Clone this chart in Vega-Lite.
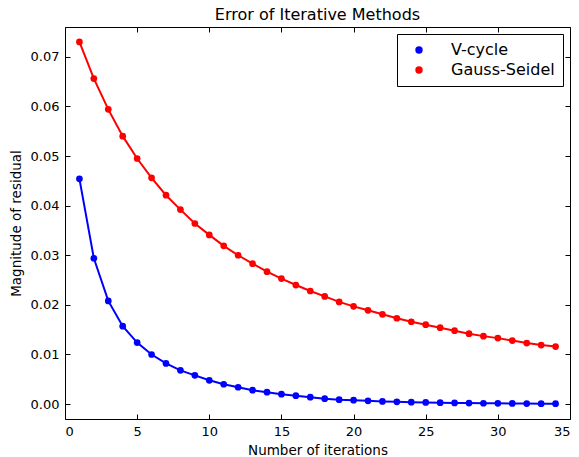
{
  "$schema": "https://vega.github.io/schema/vega-lite/v6.json",
  "width": 505,
  "height": 392,
  "autosize": "none",
  "padding": {"left": 65, "top": 27, "right": 9, "bottom": 38},
  "background": "white",
  "config": {
    "font": "DejaVu Sans",
    "view": {"stroke": "black", "strokeWidth": 1},
    "axis": {"grid": false, "domainColor": "black", "tickColor": "black", "labelColor": "black", "titleColor": "black", "labelFontSize": 13, "titleFontSize": 13.5, "titleFontWeight": "normal", "tickSize": -5, "labelPadding": 11, "domain": false}
  },
  "title": {"text": "Error of Iterative Methods", "fontSize": 16, "fontWeight": "normal", "color": "black", "offset": 4},
  "data": {"values": [
    {"iter": 1, "residual": 0.0454, "method": "V-cycle"},
    {"iter": 2, "residual": 0.0294, "method": "V-cycle"},
    {"iter": 3, "residual": 0.0208, "method": "V-cycle"},
    {"iter": 4, "residual": 0.0157, "method": "V-cycle"},
    {"iter": 5, "residual": 0.0124, "method": "V-cycle"},
    {"iter": 6, "residual": 0.0100, "method": "V-cycle"},
    {"iter": 7, "residual": 0.0082, "method": "V-cycle"},
    {"iter": 8, "residual": 0.0068, "method": "V-cycle"},
    {"iter": 9, "residual": 0.0058, "method": "V-cycle"},
    {"iter": 10, "residual": 0.0048, "method": "V-cycle"},
    {"iter": 11, "residual": 0.0040, "method": "V-cycle"},
    {"iter": 12, "residual": 0.0034, "method": "V-cycle"},
    {"iter": 13, "residual": 0.0028, "method": "V-cycle"},
    {"iter": 14, "residual": 0.0024, "method": "V-cycle"},
    {"iter": 15, "residual": 0.0020, "method": "V-cycle"},
    {"iter": 16, "residual": 0.0017, "method": "V-cycle"},
    {"iter": 17, "residual": 0.0014, "method": "V-cycle"},
    {"iter": 18, "residual": 0.0011, "method": "V-cycle"},
    {"iter": 19, "residual": 0.0009, "method": "V-cycle"},
    {"iter": 20, "residual": 0.0008, "method": "V-cycle"},
    {"iter": 21, "residual": 0.00066, "method": "V-cycle"},
    {"iter": 22, "residual": 0.00055, "method": "V-cycle"},
    {"iter": 23, "residual": 0.00046, "method": "V-cycle"},
    {"iter": 24, "residual": 0.00039, "method": "V-cycle"},
    {"iter": 25, "residual": 0.00033, "method": "V-cycle"},
    {"iter": 26, "residual": 0.00028, "method": "V-cycle"},
    {"iter": 27, "residual": 0.00024, "method": "V-cycle"},
    {"iter": 28, "residual": 0.00020, "method": "V-cycle"},
    {"iter": 29, "residual": 0.00017, "method": "V-cycle"},
    {"iter": 30, "residual": 0.00015, "method": "V-cycle"},
    {"iter": 31, "residual": 0.00013, "method": "V-cycle"},
    {"iter": 32, "residual": 0.00011, "method": "V-cycle"},
    {"iter": 33, "residual": 0.00009, "method": "V-cycle"},
    {"iter": 34, "residual": 0.00008, "method": "V-cycle"},
    {"iter": 1, "residual": 0.0730, "method": "Gauss-Seidel"},
    {"iter": 2, "residual": 0.0656, "method": "Gauss-Seidel"},
    {"iter": 3, "residual": 0.0594, "method": "Gauss-Seidel"},
    {"iter": 4, "residual": 0.0540, "method": "Gauss-Seidel"},
    {"iter": 5, "residual": 0.0495, "method": "Gauss-Seidel"},
    {"iter": 6, "residual": 0.0456, "method": "Gauss-Seidel"},
    {"iter": 7, "residual": 0.0421, "method": "Gauss-Seidel"},
    {"iter": 8, "residual": 0.0392, "method": "Gauss-Seidel"},
    {"iter": 9, "residual": 0.0364, "method": "Gauss-Seidel"},
    {"iter": 10, "residual": 0.0341, "method": "Gauss-Seidel"},
    {"iter": 11, "residual": 0.0319, "method": "Gauss-Seidel"},
    {"iter": 12, "residual": 0.0300, "method": "Gauss-Seidel"},
    {"iter": 13, "residual": 0.0283, "method": "Gauss-Seidel"},
    {"iter": 14, "residual": 0.0267, "method": "Gauss-Seidel"},
    {"iter": 15, "residual": 0.0253, "method": "Gauss-Seidel"},
    {"iter": 16, "residual": 0.0240, "method": "Gauss-Seidel"},
    {"iter": 17, "residual": 0.0228, "method": "Gauss-Seidel"},
    {"iter": 18, "residual": 0.0217, "method": "Gauss-Seidel"},
    {"iter": 19, "residual": 0.0206, "method": "Gauss-Seidel"},
    {"iter": 20, "residual": 0.0197, "method": "Gauss-Seidel"},
    {"iter": 21, "residual": 0.0189, "method": "Gauss-Seidel"},
    {"iter": 22, "residual": 0.0181, "method": "Gauss-Seidel"},
    {"iter": 23, "residual": 0.0173, "method": "Gauss-Seidel"},
    {"iter": 24, "residual": 0.0166, "method": "Gauss-Seidel"},
    {"iter": 25, "residual": 0.0160, "method": "Gauss-Seidel"},
    {"iter": 26, "residual": 0.0154, "method": "Gauss-Seidel"},
    {"iter": 27, "residual": 0.0148, "method": "Gauss-Seidel"},
    {"iter": 28, "residual": 0.0142, "method": "Gauss-Seidel"},
    {"iter": 29, "residual": 0.0137, "method": "Gauss-Seidel"},
    {"iter": 30, "residual": 0.0133, "method": "Gauss-Seidel"},
    {"iter": 31, "residual": 0.0128, "method": "Gauss-Seidel"},
    {"iter": 32, "residual": 0.0123, "method": "Gauss-Seidel"},
    {"iter": 33, "residual": 0.0119, "method": "Gauss-Seidel"},
    {"iter": 34, "residual": 0.0116, "method": "Gauss-Seidel"}
  ]},
  "layer": [
    {
      "mark": {"type": "line", "strokeWidth": 2, "point": {"filled": true, "size": 45}},
      "encoding": {
        "x": {"field": "iter", "type": "quantitative", "scale": {"domain": [0, 35], "nice": false, "zero": false},
              "axis": {"title": "Number of iterations", "values": [0,5,10,15,20,25,30,35], "titlePadding": 5}},
        "y": {"field": "residual", "type": "quantitative", "scale": {"domain": [-0.003, 0.076], "nice": false, "zero": false},
              "axis": {"title": "Magnitude of residual", "values": [0,0.01,0.02,0.03,0.04,0.05,0.06,0.07], "format": ".2f", "titlePadding": 7}},
        "color": {"field": "method", "type": "nominal", "sort": ["V-cycle", "Gauss-Seidel"],
                  "scale": {"domain": ["V-cycle", "Gauss-Seidel"], "range": ["#0000ff", "#ff0000"]},
                  "legend": {"title": null, "orient": "top-right", "offset": 7, "padding": 8, "strokeColor": "black", "fillColor": "white",
                             "labelFontSize": 16, "labelColor": "black", "symbolType": "circle", "symbolSize": 55, "symbolStrokeWidth": 0,
                             "symbolOffset": 6, "rowPadding": 4, "labelOffset": 24, "cornerRadius": 0}}
      }
    },
    {
      "mark": {"type": "point", "opacity": 0},
      "encoding": {
        "x": {"field": "iter", "type": "quantitative", "axis": {"orient": "top", "labels": false, "title": null, "values": [0,5,10,15,20,25,30,35]}},
        "y": {"field": "residual", "type": "quantitative", "axis": {"orient": "right", "labels": false, "title": null, "values": [0,0.01,0.02,0.03,0.04,0.05,0.06,0.07]}}
      }
    }
  ],
  "resolve": {"axis": {"x": "independent", "y": "independent"}}
}
